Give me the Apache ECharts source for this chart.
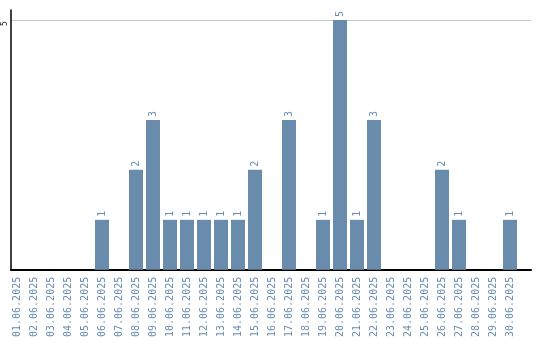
<!DOCTYPE html>
<html>
<head>
<meta charset="utf-8">
<script src="https://cdn.jsdelivr.net/npm/echarts@6/dist/echarts.min.js"></script>
<style>html,body{margin:0;padding:0;background:#fff}#c{width:540px;height:340px}</style>
</head>
<body>
<div id="c"></div>
<script>
const categories = ["01.06.2025","02.06.2025","03.06.2025","04.06.2025","05.06.2025","06.06.2025","07.06.2025","08.06.2025","09.06.2025","10.06.2025","11.06.2025","12.06.2025","13.06.2025","14.06.2025","15.06.2025","16.06.2025","17.06.2025","18.06.2025","19.06.2025","20.06.2025","21.06.2025","22.06.2025","23.06.2025","24.06.2025","25.06.2025","26.06.2025","27.06.2025","28.06.2025","29.06.2025","30.06.2025"];
const values = [0,0,0,0,0,1,0,2,3,1,1,1,1,1,2,0,3,0,1,5,1,3,0,0,0,2,1,0,0,1];
const yTicks = [5];

const barColor = '#6a8cac';
const chart = echarts.init(document.getElementById('c'), null, {renderer:'canvas'});
chart.setOption({
  animation:false,
  grid:[
    {left:11, right:9, top:10, bottom:70},
    {left:8.5, width:510, top:10, bottom:70}
  ],
  xAxis:[
    {gridIndex:0, type:'value', min:0, max:1, axisLine:{show:true,onZero:false,lineStyle:{color:'#000',width:2}}, axisTick:{show:false}, axisLabel:{show:false}, splitLine:{show:false}},
    {gridIndex:1, type:'category', data:categories, axisLine:{show:false}, axisTick:{show:false},
     axisLabel:{interval:0, rotate:90, margin:7, color:'#6a8caf', fontFamily:'DejaVu Sans Mono', fontSize:10}}
  ],
  yAxis:[
    {gridIndex:0, type:'value', min:0, max:5.2, interval:5,
     axisLine:{show:true,lineStyle:{color:'#000',width:1.5}}, axisTick:{show:false},
     axisLabel:{rotate:90, margin:2, fontSize:8, color:'#222', fontFamily:'DejaVu Sans Mono', showMaxLabel:false, showMinLabel:false,
       padding:[0,7,0,0],
       formatter:v => yTicks.includes(v) ? String(v) : ''},
     splitLine:{show:true, showMinLine:false, showMaxLine:false, lineStyle:{color:'#c8c8c8',width:1}}},
    {gridIndex:1, type:'value', min:0, max:5.2, show:false}
  ],
  series:[{
    type:'bar', xAxisIndex:1, yAxisIndex:1, data:values, barWidth:14,
    itemStyle:{color:barColor},
    label:{show:true, position:'top', rotate:90, align:'left', verticalAlign:'middle', distance:3,
      color:'#6a8caf', fontFamily:'DejaVu Sans Mono', fontSize:10,
      formatter:p => p.value > 0 ? String(p.value) : ''}
  }]
});
</script>
</body>
</html>
